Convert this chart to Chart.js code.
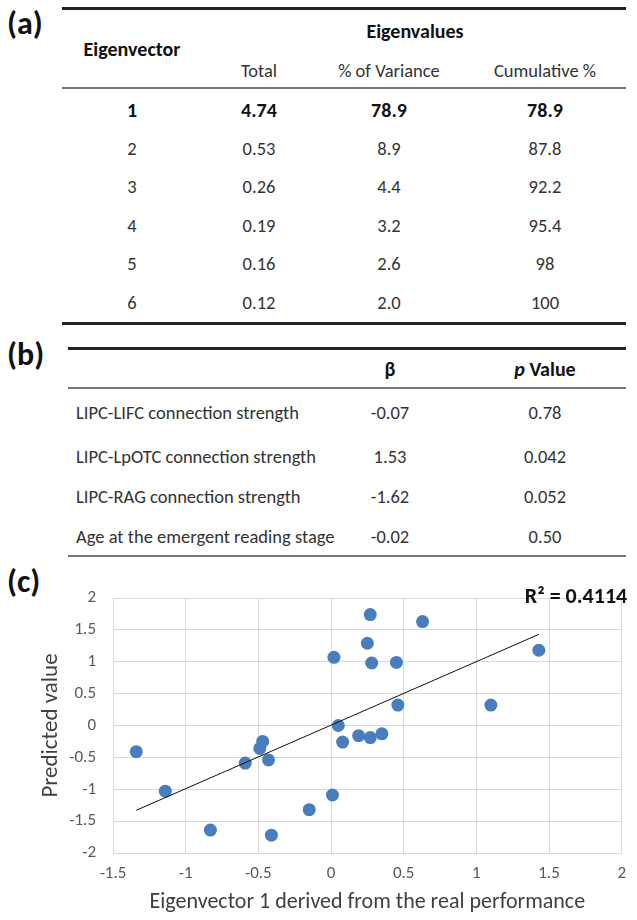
<!DOCTYPE html>
<html>
<head>
<meta charset="utf-8">
<script src="https://cdn.jsdelivr.net/npm/chart.js@4.4.0/dist/chart.umd.min.js"></script>
<style>
  body { margin: 0; background: #fff; font-family: Carlito, Lato, sans-serif; }
  #page { position: relative; width: 637px; height: 920px; overflow: hidden; }
  .t { position: absolute; white-space: nowrap; line-height: 24px; height: 24px; color: #333; font-size: 18.5px; }
  .b { font-weight: bold; color: #111; font-size: 20px; }
  .rule { position: absolute; }
  .panel { position: absolute; left: 7px; font-weight: bold; font-size: 32px; color: #111; line-height: 36px; }
  #chartBox { position: absolute; left: 0; top: 560px; width: 637px; height: 360px; }
</style>
</head>
<body>
<div id="page">
  <div class="panel" style="top:6px">(a)</div>
  <div class="panel" style="top:337px">(b)</div>
  <div class="panel" style="top:564px">(c)</div>
  <div id="chartBox"><canvas id="scatter"></canvas></div>
</div>
<script>
// table (a)
const eigenvectors = ['1', '2', '3', '4', '5', '6'];
const eigenTotal = ['4.74', '0.53', '0.26', '0.19', '0.16', '0.12'];
const pctVariance = ['78.9', '8.9', '4.4', '3.2', '2.6', '2.0'];
const cumulativePct = ['78.9', '87.8', '92.2', '95.4', '98', '100'];

// table (b)
const predictors = [
  'LIPC-LIFC connection strength',
  'LIPC-LpOTC connection strength',
  'LIPC-RAG connection strength',
  'Age at the emergent reading stage'
];
const betas = ['-0.07', '1.53', '-1.62', '-0.02'];
const pValues = ['0.78', '0.042', '0.052', '0.50'];

// scatter (c)
const realScores = [-1.34, -1.14, -0.83, -0.59, -0.49, -0.47, -0.43, -0.41, -0.15, 0.01, 0.02, 0.05, 0.08,
  0.27, 0.63, 0.25, 0.28, 0.45, 0.46, 1.10, 1.43, 0.19, 0.27, 0.35];
const predictedScores = [-0.41, -1.03, -1.64, -0.59, -0.36, -0.25, -0.54, -1.72, -1.32, -1.09, 1.07, 0.00, -0.26,
  1.74, 1.63, 1.29, 0.98, 0.99, 0.32, 0.32, 1.18, -0.16, -0.19, -0.13];
const trendX = [-1.34, 1.43];
const trendY = [-1.33, 1.43];
const xTickRange = [-1.5, 2];
const yTickRange = [-2, 2];
const r2Text = 'R\u00b2 = 0.4114';

const page = document.getElementById('page');

function put(html, x, y, cls, align) {
  const d = document.createElement('div');
  d.className = 't ' + (cls || '');
  d.innerHTML = html;
  d.style.top = (y - 12) + 'px';
  if (align === 'left') {
    d.style.left = x + 'px';
  } else {
    d.style.left = (x - 100) + 'px';
    d.style.width = '200px';
    d.style.textAlign = 'center';
  }
  page.appendChild(d);
}

function rule(y, x1, x2, h, color) {
  const d = document.createElement('div');
  d.className = 'rule';
  d.style.top = y + 'px';
  d.style.left = x1 + 'px';
  d.style.width = (x2 - x1) + 'px';
  d.style.height = h + 'px';
  d.style.background = color;
  page.appendChild(d);
}

// table (a)
rule(7, 62, 626, 3, '#222');
put('Eigenvalues', 415, 31, 'b');
put('Eigenvector', 132, 49, 'b');
put('Total', 259, 71);
put('% of Variance', 389, 71);
put('Cumulative %', 545, 71);
rule(87, 62, 626, 2, '#777');
const rowsA = [110, 149, 187, 226, 264, 303];
eigenvectors.forEach((ev, i) => {
  const cls = i === 0 ? 'b' : '';
  put(ev, 132, rowsA[i], cls);
  put(eigenTotal[i], 259, rowsA[i], cls);
  put(pctVariance[i], 389, rowsA[i], cls);
  put(cumulativePct[i], 545, rowsA[i], cls);
});
rule(322, 62, 626, 3, '#222');

// table (b)
rule(347, 68, 626, 3, '#222');
put('\u03b2', 390, 369, 'b');
put('<i>p</i> Value', 545, 369, 'b');
rule(387, 68, 626, 2, '#777');
const rowsB = [413, 457, 497, 537];
predictors.forEach((p, i) => {
  put(p, 76, rowsB[i], '', 'left');
  put(betas[i], 390, rowsB[i]);
  put(pValues[i], 545, rowsB[i]);
});
rule(555, 68, 626, 2, '#777');

// chart (c)
const fontFamily = 'Carlito, Lato, sans-serif';
const gridColor = '#d9d9d9';
const tickColor = '#595959';

const r2Label = {
  id: 'r2Label',
  afterDatasetsDraw(chart) {
    const { ctx, scales: { x, y } } = chart;
    ctx.save();
    ctx.font = 'bold 22px ' + fontFamily;
    ctx.fillStyle = '#111';
    ctx.textBaseline = 'middle';
    ctx.fillText(r2Text, x.getPixelForValue(trendX[1]) - 14, y.getPixelForValue(yTickRange[1]) - 1);
    ctx.restore();
  }
};

new Chart(document.getElementById('scatter'), {
  type: 'scatter',
  data: {
    datasets: [
      {
        label: 'Predicted',
        data: realScores.map((v, i) => ({ x: v, y: predictedScores[i] })),
        backgroundColor: '#4a7dbd',
        borderWidth: 0,
        pointRadius: 6.5,
        order: 1
      },
      {
        label: 'Linear',
        type: 'line',
        data: trendX.map((v, i) => ({ x: v, y: trendY[i] })),
        borderColor: '#111',
        borderWidth: 1,
        pointRadius: 0,
        order: 0
      }
    ]
  },
  options: {
    responsive: true,
    maintainAspectRatio: false,
    animation: false,
    layout: { padding: { top: 38, right: 14, left: 0, bottom: 0 } },
    plugins: { legend: { display: false }, tooltip: { enabled: false } },
    scales: {
      x: {
        type: 'linear',
        min: xTickRange[0],
        max: xTickRange[1],
        afterFit: (s) => { s.height = 67; },
        ticks: {
          stepSize: 0.5,
          padding: 11,
          color: tickColor,
          font: { family: fontFamily, size: 17 },
          callback: (v) => String(Math.round(v * 10) / 10)
        },
        grid: { color: gridColor, drawTicks: false },
        border: { color: gridColor },
        title: {
          display: true,
          text: 'Eigenvector 1 derived from the real performance',
          color: '#404040',
          font: { family: fontFamily, size: 22 },
          padding: { top: 0, bottom: 4 }
        }
      },
      y: {
        type: 'linear',
        min: yTickRange[0],
        max: yTickRange[1],
        afterFit: (s) => { s.width = 113; },
        ticks: {
          stepSize: 0.5,
          padding: 17,
          color: tickColor,
          font: { family: fontFamily, size: 17 },
          callback: (v) => String(Math.round(v * 10) / 10)
        },
        grid: { color: gridColor, drawTicks: false },
        border: { color: gridColor },
        title: {
          display: true,
          text: 'Predicted value',
          color: '#404040',
          font: { family: fontFamily, size: 23 },
          padding: { top: 37, bottom: 0 }
        }
      }
    }
  },
  plugins: [r2Label]
});
</script>
</body>
</html>
